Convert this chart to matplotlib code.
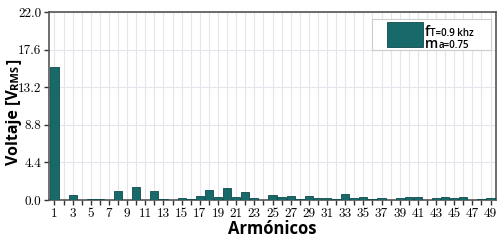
import numpy as np
import matplotlib
matplotlib.use('Agg')
import matplotlib.pyplot as plt
from matplotlib import rcParams
from matplotlib.patches import Rectangle

rcParams['axes.linewidth'] = 1.2
rcParams['axes.formatter.use_mathtext'] = True

W, H = 504, 241
bar_color = '#186a6a'
edge_color = '#0e4a4a'

# harmonics 1..49
harmonics = np.arange(1, 50)
voltage = [15.6, 0.0, 0.62, 0.05, 0.1, 0.1, 0.05, 1.0, 0.05, 1.47,
           0.05, 1.09, 0.1, 0.05, 0.2, 0.1, 0.5, 1.12, 0.39, 1.44,
           0.35, 0.94, 0.23, 0.05, 0.54, 0.3, 0.42, 0.15, 0.42, 0.27,
           0.27, 0.1, 0.66, 0.27, 0.35, 0.1, 0.23, 0.05, 0.2, 0.3,
           0.39, 0.05, 0.27, 0.35, 0.23, 0.3, 0.05, 0.1, 0.23]
yticks = [0.0, 4.4, 8.8, 13.2, 17.6, 22.0]
legend_lines = [('f', 'T=0.9 khz'), ('m', 'a=0.75')]
ylabel_parts = [('Voltaje [V', 11.5), ('RMS', 8), (']', 11.5)]

fig = plt.figure(figsize=(W/100, H/100), dpi=100)
ax = fig.add_axes([49/W, 1-200/H, (496-49)/W, (200-12)/H])

ax.bar(harmonics, voltage, width=0.9, color=bar_color, edgecolor=edge_color,
       linewidth=0.6, zorder=3)

ax.set_xlim(0.4, 49.6)
ax.set_ylim(0, 22)
ax.set_xticks(harmonics)
ax.set_xticklabels([str(h) if h % 2 == 1 else '' for h in harmonics],
                   fontfamily='cmr10', fontsize=9.5)
ax.set_yticks(yticks)
ax.set_yticklabels(['%.1f' % v for v in yticks], fontfamily='cmr10', fontsize=9.5)
ax.tick_params(axis='both', which='major', length=3.5, width=1.0, color='#333333', pad=2)

ax.grid(True, color='#e3e6ec', linewidth=0.8, zorder=0)
ax.set_axisbelow(True)
for s in ax.spines.values():
    s.set_color('#555555')

ax.set_xlabel('Armónicos', fontfamily='Open Sans', fontweight='bold', fontsize=12, labelpad=0)

# y label built from pieces (small "RMS")
fig.canvas.draw()
rend = fig.canvas.get_renderer()
ypos = 165
for txt, size in ylabel_parts:
    t = fig.text(18/W, 1-ypos/H, txt, rotation=90, rotation_mode='anchor',
                 ha='left', va='baseline', fontfamily='Open Sans',
                 fontweight='bold', fontsize=size)
    bb = t.get_window_extent(rend)
    ypos = H - bb.y1 - 0.5

# legend box drawn by hand
frame = Rectangle((372/W, 1-50/H), (491-372)/W, (50-19)/H, transform=fig.transFigure,
                  facecolor='white', edgecolor='#cccccc', linewidth=0.8, zorder=5)
fig.add_artist(frame)
swatch = Rectangle((387/W, 1-47/H), (423-387)/W, (47-22)/H, transform=fig.transFigure,
                   facecolor=bar_color, edgecolor=edge_color, linewidth=0.6, zorder=6)
fig.add_artist(swatch)
for (big, small), base in zip(legend_lines, [36, 47.5]):
    t = fig.text(425/W, 1-base/H, big, ha='left', va='baseline', fontfamily='Open Sans',
                 fontweight='semibold', fontsize=10, zorder=7)
    bb = t.get_window_extent(rend)
    fig.text((bb.x1 + 0.5)/W, 1-base/H, small, ha='left', va='baseline',
             fontfamily='Open Sans', fontweight='semibold', fontsize=7, zorder=7)

fig.savefig('out.png', dpi=100)
